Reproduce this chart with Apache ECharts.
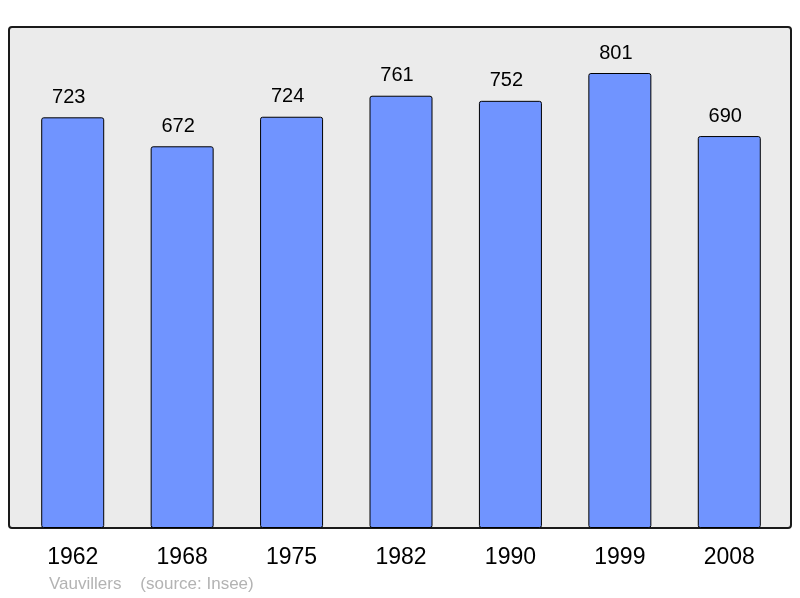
<!DOCTYPE html>
<html>
<head>
<meta charset="utf-8">
<script src="https://cdn.jsdelivr.net/npm/echarts@6/dist/echarts.min.js"></script>
<style>
  html, body { margin: 0; padding: 0; background: #fff; }
  #chart { width: 800px; height: 598px; }
</style>
</head>
<body>
<div id="chart"></div>
<script>
// years and population
const years = ['1962', '1968', '1975', '1982', '1990', '1999', '2008'];
const population = [723, 672, 724, 761, 752, 801, 690];

const chart = echarts.init(document.getElementById('chart'));

const options = {
  animation: false,
  grid: {
    left: 18,
    right: 16,
    top: 27,
    bottom: 70
  },
  // frame behind the bars
  graphic: [
    {
      type: 'rect',
      z: -10,
      shape: { x: 9, y: 27, width: 782, height: 501, r: 3 },
      style: { fill: '#ebebeb', stroke: '#1a1a1a', lineWidth: 2 }
    },
    {
      type: 'text',
      left: 49,
      top: 576,
      style: {
        text: 'Vauvillers    (source: Insee)',
        fill: '#b3b3b3',
        font: '17px "Liberation Sans", Arial, sans-serif'
      }
    }
  ],
  xAxis: {
    type: 'category',
    data: years,
    axisLine: { show: false },
    axisTick: { show: false },
    axisLabel: {
      margin: 18,
      color: '#000',
      fontSize: 23,
      fontFamily: 'Liberation Sans'
    }
  },
  yAxis: {
    type: 'value',
    min: 0,
    max: 882,
    show: false,
    splitLine: { show: false }
  },
  series: [
    {
      type: 'bar',
      data: population,
      barWidth: 63,
      itemStyle: {
        color: '#7094ff',
        borderColor: '#000',
        borderWidth: 1,
        borderRadius: 2
      },
      label: {
        show: true,
        position: 'top',
        distance: 10,
        offset: [-4, 0],
        color: '#000',
        fontSize: 20,
        fontFamily: 'Liberation Sans'
      }
    }
  ]
};

chart.setOption(options);

window.addEventListener('resize', () => {
  chart.resize();
});
</script>
</body>
</html>
